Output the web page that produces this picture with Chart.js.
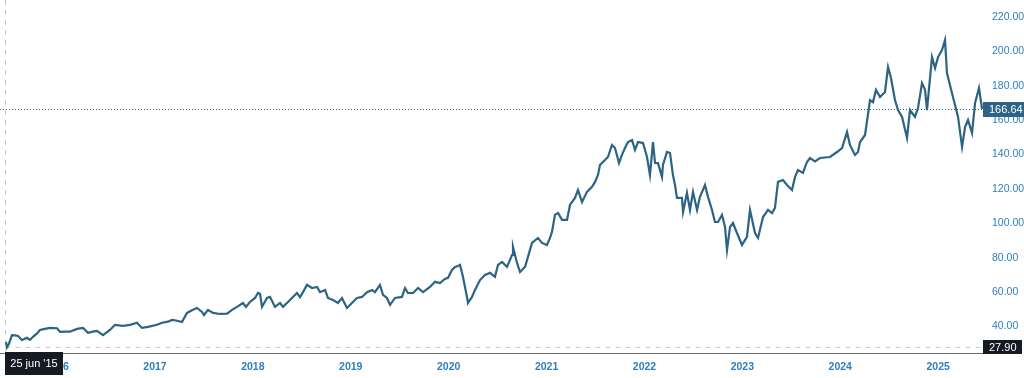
<!DOCTYPE html>
<html>
<head>
<meta charset="utf-8">
<script src="https://cdn.jsdelivr.net/npm/chart.js@4.4.1/dist/chart.umd.min.js"></script>
<style>
  html, body { margin: 0; padding: 0; background: #fff; }
  #wrap { width: 1024px; height: 378px; }
</style>
</head>
<body>
<div id="wrap"><canvas id="chart" width="1024" height="378"></canvas></div>
<script>
// koers per datum (decimale jaren)
const dates = [
  2015.478, 2015.488, 2015.509, 2015.539, 2015.570, 2015.601, 2015.641, 2015.693, 2015.723, 2015.754,
  2015.795, 2015.825, 2015.876, 2015.927, 2016.000, 2016.030, 2016.081, 2016.132, 2016.203, 2016.265,
  2016.316, 2016.367, 2016.408, 2016.469, 2016.540, 2016.591, 2016.673, 2016.745, 2016.816, 2016.867,
  2016.929, 2017.020, 2017.072, 2017.133, 2017.174, 2017.215, 2017.276, 2017.327, 2017.388, 2017.429,
  2017.480, 2017.501, 2017.541, 2017.593, 2017.664, 2017.736, 2017.787, 2017.838, 2017.899, 2017.930,
  2017.970, 2018.022, 2018.052, 2018.073, 2018.093, 2018.144, 2018.175, 2018.226, 2018.277, 2018.308,
  2018.359, 2018.399, 2018.451, 2018.481, 2018.512, 2018.553, 2018.604, 2018.655, 2018.686, 2018.737,
  2018.767, 2018.818, 2018.869, 2018.910, 2018.961, 2019.012, 2019.063, 2019.115, 2019.166, 2019.217,
  2019.247, 2019.298, 2019.329, 2019.370, 2019.401, 2019.452, 2019.523, 2019.554, 2019.584, 2019.636,
  2019.687, 2019.738, 2019.809, 2019.860, 2019.911, 2019.962, 2019.993, 2020.034, 2020.065, 2020.095,
  2020.116, 2020.146, 2020.187, 2020.197, 2020.238, 2020.269, 2020.320, 2020.371, 2020.422, 2020.473,
  2020.504, 2020.545, 2020.596, 2020.647, 2020.657, 2020.698, 2020.729, 2020.780, 2020.810, 2020.851,
  2020.912, 2020.953, 2021.004, 2021.035, 2021.055, 2021.086, 2021.117, 2021.158, 2021.209, 2021.239,
  2021.290, 2021.321, 2021.362, 2021.413, 2021.464, 2021.495, 2021.525, 2021.546, 2021.597, 2021.627,
  2021.668, 2021.699, 2021.740, 2021.770, 2021.801, 2021.832, 2021.873, 2021.903, 2021.934, 2021.985,
  2022.026, 2022.056, 2022.087, 2022.108, 2022.138, 2022.179, 2022.189, 2022.230, 2022.261, 2022.291,
  2022.312, 2022.332, 2022.383, 2022.394, 2022.434, 2022.465, 2022.496, 2022.537, 2022.567, 2022.618,
  2022.649, 2022.690, 2022.720, 2022.751, 2022.792, 2022.823, 2022.843, 2022.874, 2022.904, 2022.945,
  2022.996, 2023.047, 2023.078, 2023.129, 2023.160, 2023.211, 2023.262, 2023.303, 2023.333, 2023.364,
  2023.415, 2023.456, 2023.507, 2023.538, 2023.568, 2023.619, 2023.660, 2023.691, 2023.742, 2023.793,
  2023.895, 2023.967, 2024.018, 2024.069, 2024.099, 2024.150, 2024.181, 2024.202, 2024.253, 2024.304,
  2024.334, 2024.365, 2024.406, 2024.457, 2024.488, 2024.518, 2024.559, 2024.590, 2024.631, 2024.682,
  2024.712, 2024.763, 2024.794, 2024.835, 2024.866, 2024.886, 2024.937, 2024.968, 2024.999, 2025.039,
  2025.070, 2025.090, 2025.141, 2025.172, 2025.203, 2025.244, 2025.275, 2025.305, 2025.346, 2025.377,
  2025.417, 2025.448
];
const prices = [
  31, 27.9, 30, 35, 34.8, 34.5, 32.2, 33.4, 32.2, 34,
  36, 38, 38.6, 39.2, 39, 36.9, 37, 37, 38.6, 39.2,
  36.3, 37, 37.5, 35, 38, 41, 40.4, 41, 42.2, 39.2,
  39.8, 41, 42.2, 42.8, 43.8, 43.5, 42.6, 47.9, 49.7, 50.8,
  48.5, 46.7, 49.7, 47.9, 47.3, 47.5, 49.7, 51.4, 53.7, 51.4,
  54.3, 56.6, 59.5, 59, 51.4, 56.6, 57.2, 51.4, 53.7, 51.5,
  54.3, 56.6, 59.5, 57, 60, 64.2, 62.4, 63, 60, 61.3,
  56.6, 55.5, 53.7, 56.6, 50.8, 53.7, 56.6, 57.2, 60, 61.3,
  60, 64.2, 58.4, 56.6, 52.6, 56.6, 57.2, 62.4, 59.5, 59.5,
  62.4, 60, 63, 66, 65.3, 67.7, 68.3, 72.9, 74.7, 75.2,
  75.8, 68.9, 57.2, 53.7, 57.2, 61.3, 67, 70, 71.2, 68.9,
  75.8, 77.6, 74.7, 81.6, 86.3, 77, 71.7, 74.7, 80.5, 88.6,
  91.5, 88.6, 87.4, 91.5, 95, 104.9, 106, 102, 102, 110.7,
  114.8, 119.4, 112.4, 118.3, 121.2, 124.1, 128.1, 134, 136.9, 138.6,
  145.6, 143.8, 135.1, 139.8, 143.8, 147.3, 148.5, 142.7, 147.3, 146.7,
  138.6, 128.1, 147.3, 135.1, 135, 127, 134, 141.5, 140.9, 128.1,
  122.3, 114.8, 114.8, 106.6, 117.7, 107.8, 118.3, 107.8, 115.4, 122.3,
  115.4, 107.8, 100.8, 100.8, 104.9, 97.9, 84.5, 97.9, 100.2, 94.4,
  87.4, 92.1, 107.8, 94.4, 91.5, 103.7, 107.8, 106, 109, 124.1,
  125.2, 122.3, 119.4, 127, 131, 129.3, 135.7, 138, 136, 138,
  138.6, 141.5, 143.8, 153.1, 145.6, 139.8, 141.5, 147.3, 151.4, 171.7,
  170.5, 177.6, 173.5, 176.4, 190.9, 184.5, 171.7, 165.9, 161.9, 149.7,
  165.9, 161.9, 167.1, 181.6, 177.6, 165.9, 196.7, 190.3, 196.7, 200.8,
  206.6, 187.4, 175.8, 168.8, 161.9, 144.4, 156, 160.1, 152.6, 170,
  178.7, 166.64
];
const yearTicks = [2016, 2017, 2018, 2019, 2020, 2021, 2022, 2023, 2024, 2025];
const priceTicks = [40, 60, 80, 100, 120, 140, 160, 180, 200, 220];
const lastPrice = 166.64;
const lowPrice = 27.90;
const startLabel = "25 jun '15";

const LINE = '#2d6483';
const BLUE = '#2e7ebf';
const FONT = '"Liberation Sans", Arial, sans-serif';

// hulplijnen onder de koerslijn, labels erboven
const overlay = {
  id: 'overlay',
  beforeDatasetsDraw(chart) {
    const { ctx, chartArea: a, scales: { x, y } } = chart;
    const xs = Math.round(x.getPixelForValue(dates[0])) - 0.5;
    const yl = Math.round(y.getPixelForValue(lowPrice)) + 0.5;
    const yp = Math.round(y.getPixelForValue(lastPrice)) + 0.5;
    ctx.save();
    ctx.lineWidth = 1;
    ctx.strokeStyle = '#c8c8c8';
    ctx.setLineDash([5, 5]);
    ctx.beginPath(); ctx.moveTo(xs, yl); ctx.lineTo(a.right, yl); ctx.stroke();
    ctx.beginPath(); ctx.moveTo(xs, a.top); ctx.lineTo(xs, a.bottom); ctx.stroke();
    ctx.strokeStyle = LINE;
    ctx.setLineDash([1, 2]);
    ctx.beginPath(); ctx.moveTo(a.left, yp); ctx.lineTo(a.right, yp); ctx.stroke();
    ctx.restore();
  },
  afterDraw(chart) {
    const { ctx, chartArea: a, scales: { x, y } } = chart;
    const box = (text, left, top, w, h, bg, align) => {
      ctx.fillStyle = bg;
      ctx.fillRect(left, top, w, h);
      ctx.fillStyle = '#fff';
      ctx.font = '11px ' + FONT;
      ctx.textBaseline = 'middle';
      ctx.textAlign = align;
      ctx.fillText(text, align === 'center' ? left + w / 2 : left + 6, top + h / 2 + 0.5);
    };
    ctx.save();
    const yp = y.getPixelForValue(lastPrice);
    box(lastPrice.toFixed(2), a.right, Math.round(yp) - 7, 41, 15, LINE, 'left');
    const yl = y.getPixelForValue(lowPrice);
    box(lowPrice.toFixed(2), a.right, Math.round(yl) - 7, 39, 14, '#161a22', 'left');
    const xs = Math.round(x.getPixelForValue(dates[0])) - 1;
    box(startLabel, xs, a.bottom - 1, 58, 23, '#161a22', 'center');
    ctx.restore();
  }
};

const noPad = (s) => { s.paddingTop = 0; s.paddingBottom = 0; s.paddingLeft = 0; s.paddingRight = 0; };

new Chart(document.getElementById('chart'), {
  type: 'line',
  data: {
    datasets: [{
      data: dates.map((d, i) => ({ x: d, y: prices[i] })),
      borderColor: LINE,
      borderWidth: 2.2,
      pointRadius: 0,
      tension: 0,
      fill: false
    }]
  },
  options: {
    responsive: false,
    animation: false,
    devicePixelRatio: 1,
    layout: { padding: 0, autoPadding: false },
    plugins: { legend: { display: false }, tooltip: { enabled: false } },
    scales: {
      x: {
        type: 'linear',
        min: 2015.417,
        max: 2025.458,
        grid: { display: false, drawTicks: false },
        border: { display: true, color: '#6b6b6b', width: 1 },
        afterBuildTicks: (s) => { s.ticks = yearTicks.map((v) => ({ value: v })); },
        afterFit: (s) => { s.height = 25; noPad(s); },
        ticks: {
          autoSkip: false,
          maxRotation: 0,
          padding: 8,
          color: BLUE,
          font: { family: FONT, size: 10.5, weight: 'bold' },
          callback: (v) => String(v)
        }
      },
      y: {
        position: 'right',
        min: 24.6,
        max: 229.9,
        grid: { display: false, drawTicks: false },
        border: { display: false },
        afterBuildTicks: (s) => { s.ticks = priceTicks.map((v) => ({ value: v })); },
        afterFit: (s) => { s.width = 41; noPad(s); },
        ticks: {
          padding: 9,
          color: BLUE,
          font: { family: FONT, size: 10.5 },
          callback: (v) => Number(v).toFixed(2)
        }
      }
    }
  },
  plugins: [overlay]
});
</script>
</body>
</html>
